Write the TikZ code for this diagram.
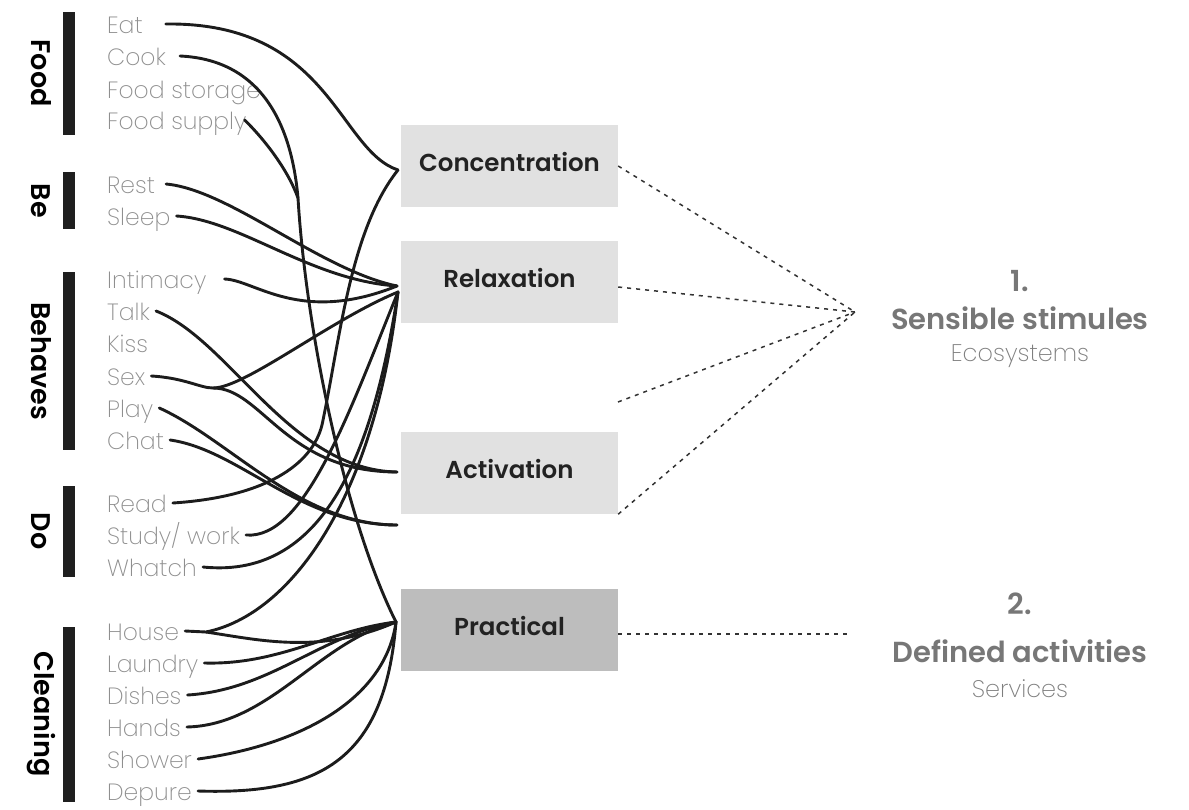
\documentclass[tikz,border=0pt]{standalone}
\usepackage{fontspec}
\setmainfont{Poppins}
\newfontfamily\lightfont{Poppins ExtraLight}
\newfontfamily\semifont{Poppins SemiBold}
\definecolor{itemgray}{HTML}{8E8E8E}
\definecolor{boxlight}{HTML}{E1E1E1}
\definecolor{boxdark}{HTML}{BDBDBD}
\definecolor{boxtext}{HTML}{222222}
\definecolor{linecol}{HTML}{1C1C1C}
\definecolor{guidecol}{HTML}{333333}
\definecolor{headcol}{HTML}{777777}
\definecolor{subcol}{HTML}{7E7E7E}
\begin{document}
\begin{tikzpicture}[x=1pt,y=-1pt,
  item/.style={anchor=base west, inner xsep=6pt, inner ysep=0pt,
    text height=18pt, text depth=0pt,
    font=\lightfont\fontsize{23.5}{24}\selectfont, text=itemgray},
  group/.style={rotate=-90, inner sep=0pt,
    font=\semifont\fontsize{27}{27}\selectfont, text=black},
  bar/.style={fill=black!88, draw=none},
  box/.style={fill=boxlight, minimum width=217pt, minimum height=82pt,
    inner sep=0pt, text height=18pt, text depth=8pt,
    font=\semifont\fontsize{24.5}{25}\selectfont, text=boxtext},
  link/.style={draw=linecol, line width=2.9pt, line cap=round},
  guide/.style={draw=guidecol, line width=1.5pt, dash pattern=on 4pt off 5pt},
  headnum/.style={font=\semifont\fontsize{29}{29}\selectfont, text=headcol, inner sep=0pt},
  headsub/.style={font=\lightfont\fontsize{24}{24}\selectfont, text=subcol, inner sep=0pt}
]
\useasboundingbox (0,0) rectangle (1189,809);

% group bars and rotated group names
\fill[bar] (63,12) rectangle (75,135);
\fill[bar] (63,172) rectangle (75,229);
\fill[bar] (63,272) rectangle (75,450);
\fill[bar] (63,486) rectangle (75,577);
\fill[bar] (63,627) rectangle (75,802);
\node[group] (gfood)  at (41,73)  {Food};
\node[group] (gbe)    at (41,201) {Be};
\node[group] (gbeh)   at (41,361) {Behaves};
\node[group] (gdo)    at (41,531) {Do};
\node[group] (gclean) at (41,714) {Cleaning};

% activity labels
\node[item] (eat)     at (101,33)  {Eat};
\node[item] (cook)    at (101,65)  {Cook};
\node[item] (fstore)  at (101,98)  {Food storage};
\node[item] (fsupply) at (101,129) {Food supply};
\node[item] (rest)    at (101,193) {Rest};
\node[item] (sleep)   at (101,225) {Sleep};
\node[item] (intim)   at (101,288) {Intimacy};
\node[item] (talk)    at (101,320) {Talk};
\node[item] (kiss)    at (101,352) {Kiss};
\node[item] (sex)     at (101,385) {Sex};
\node[item] (play)    at (101,417) {Play};
\node[item] (chat)    at (101,449) {Chat};
\node[item] (read)    at (101,512) {Read};
\node[item] (study)   at (101,544) {Study/ work};
\node[item] (watch)   at (101,576) {Whatch};
\node[item] (house)   at (101,640) {House};
\node[item] (laundry) at (101,672) {Laundry};
\node[item] (dishes)  at (101,704) {Dishes};
\node[item] (hands)   at (101,736) {Hands};
\node[item] (shower)  at (101,768) {Shower};
\node[item] (depure)  at (101,800) {Depure};

% category boxes
\node[box] (conc)  at (509.5,166) {Concentration};
\node[box] (relax) at (509.5,282) {Relaxation};
\node[box] (activ) at (509.5,473) {Activation};
\node[box, fill=boxdark] (pract) at (509.5,630) {Practical};

% meeting points of the links
\coordinate (concIn)   at (398,170);
\coordinate (relaxIn)  at (397,286);
\coordinate (relaxLow) at (398,292);
\coordinate (activIn)  at (397,472);
\coordinate (lowIn)    at (397,525);
\coordinate (practIn)  at (396,622);
\coordinate (supplyJoin) at (298,198);
\coordinate (sexFork)  at (213,388);
\coordinate (houseFork) at (206,632);
\coordinate (gapOut)   at (618,402);

% links: Food
\draw[link] ([xshift=17pt]eat.east) .. controls (330,22) and (338,150) .. (concIn);
\draw[link] ([xshift=8pt]cook.east) .. controls (265,60) and (292,130) .. (supplyJoin)
  .. controls (306,330) and (345,520) .. (practIn);
\draw[link] ([xshift=-8pt]fsupply.east) .. controls (265,140) and (288,170) .. (supplyJoin);
% links: Be
\draw[link] ([xshift=5pt]rest.east) .. controls (230,190) and (320,270) .. (relaxIn);
\draw[link] (sleep.east) .. controls (240,220) and (310,280) .. (relaxIn);
% links: Behaves
\draw[link] ([xshift=12pt]intim.east) .. controls (255,280) and (300,325) .. (relaxIn);
\draw[link] (talk.east) .. controls (230,340) and (290,470) .. (activIn);
\draw[link] (sex.east) .. controls (185,378) and (200,388) .. (sexFork)
  .. controls (245,388) and (330,320) .. (relaxLow);
\draw[link] (sexFork) .. controls (262,388) and (285,472) .. (activIn);
\draw[link] (play.east) .. controls (230,440) and (300,525) .. (lowIn);
\draw[link] (chat.east) .. controls (240,450) and (300,525) .. (lowIn);
% links: Do
\draw[link] (read.east) .. controls (265,497) and (312,465) .. (322,425)
  .. controls (340,340) and (350,230) .. (concIn);
\draw[link] (study.east) .. controls (305,540) and (350,410) .. (relaxLow);
\draw[link] (watch.east) .. controls (330,580) and (375,440) .. (relaxLow);
% links: Cleaning
\draw[link] (house.east) -- (houseFork) .. controls (290,615) and (375,500) .. (relaxLow);
\draw[link] (houseFork) .. controls (260,640) and (320,655) .. (practIn);
\draw[link] (laundry.east) .. controls (280,665) and (330,630) .. (practIn);
\draw[link] (dishes.east) .. controls (270,690) and (320,635) .. (practIn);
\draw[link] (hands.east) .. controls (270,725) and (320,640) .. (practIn);
\draw[link] (shower.east) .. controls (300,745) and (385,700) .. (practIn);
\draw[link] (depure.east) .. controls (320,795) and (385,760) .. (practIn);

% right-hand groupings
\node[headnum] (num1) at (1020,281) {1.};
\node[headnum] (sens) at (1020,318) {Sensible stimules};
\node[headsub] (eco)  at (1020,356) {Ecosystems};
\node[headnum] (num2) at (1020,604) {2.};
\node[headnum] (defa) at (1020,651) {Defined activities};
\node[headsub] (serv) at (1020,689) {Services};

\coordinate (stim) at (855,312);
\coordinate (defd) at (852,634);

% dashed guides
\draw[guide] (conc.east) -- (stim);
\draw[guide] ([yshift=-5pt]relax.east) -- (stim);
\draw[guide] (gapOut) -- (stim);
\draw[guide] (activ.south east) -- (stim);
\draw[guide] ([yshift=-4pt]pract.east) -- (defd);
\end{tikzpicture}
\end{document}
